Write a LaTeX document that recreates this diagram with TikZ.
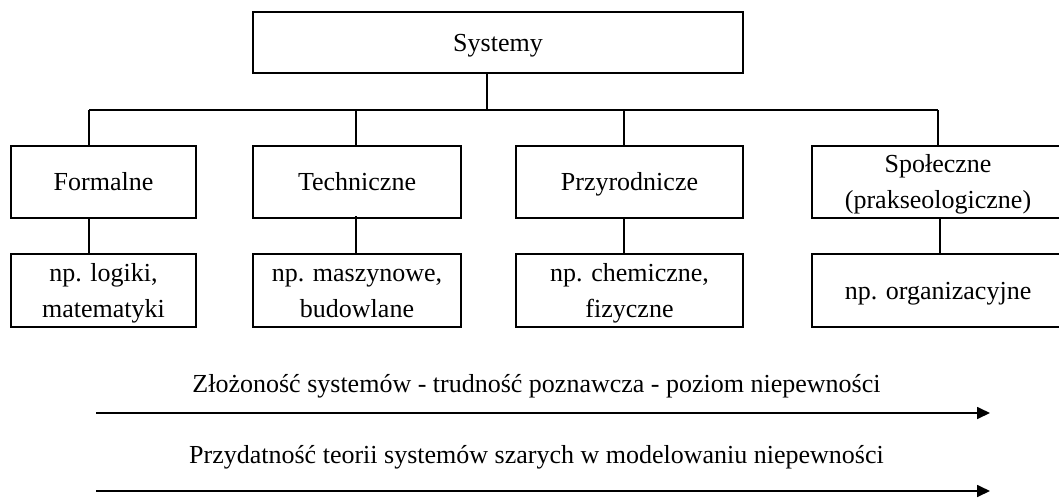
\documentclass[tikz,border=0pt]{standalone}
\usepackage{fontspec}
\setmainfont{Liberation Serif}
\usetikzlibrary{arrows.meta}
\tikzset{
  lbl/.style={font=\fontsize{26}{36}\selectfont},
  box/.style={lbl, draw, line width=2pt, align=center, inner sep=0pt,
              text depth=0pt, text height=17.5pt},
  twoline/.style={text height=53.5pt},
  wire/.style={line width=1.1pt},
  axis/.style={line width=1.7pt, -{Triangle[length=13pt,width=12pt]}}
}
\begin{document}
\begin{tikzpicture}[x=1pt,y=-1pt]
  \clip (0,0) rectangle (1059,498);
  \fill[white] (0,0) rectangle (1059,498);

  % root
  \node[box, minimum width=490, minimum height=61] (root) at (498,42.5) {Systemy};

  % categories
  \node[box, minimum width=185, minimum height=72] (f)  at (103.5,182) {Formalne};
  \node[box, minimum width=208, minimum height=72] (t)  at (357,182)   {Techniczne};
  \node[box, minimum width=227, minimum height=72] (p)  at (629.5,182) {Przyrodnicze};
  \node[box, twoline, minimum width=252, minimum height=72] (s) at (938,182) {Społeczne\\(prakseologiczne)};

  % examples
  \node[box, twoline, minimum width=185, minimum height=73] (fe) at (103.5,290.5) {np. logiki,\\matematyki};
  \node[box, twoline, minimum width=208, minimum height=73] (te) at (357,290.5)   {np. maszynowe,\\budowlane};
  \node[box, twoline, minimum width=227, minimum height=73] (pe) at (629.5,290.5) {np. chemiczne,\\fizyczne};
  \node[box, minimum width=252, minimum height=73] (se) at (938,290.5) {np. organizacyjne};

  % tree connectors
  \coordinate (hub) at (487,110);
  \coordinate (cf) at (89,110);
  \coordinate (ct) at (356,110);
  \coordinate (cp) at (624,110);
  \coordinate (cs) at (938,110);
  \draw[wire] (root.south -| hub) -- (hub);
  \draw[wire] (cf) -- (cs);
  \draw[wire] (cf) -- (cf |- f.north);
  \draw[wire] (ct) -- (ct |- t.north);
  \draw[wire] (cp) -- (cp |- p.north);
  \draw[wire] (cs) -- (cs |- s.north);

  \draw[wire] (cf |- f.south) -- (cf |- fe.north);
  \draw[wire] ([yshift=3]ct |- t.south) -- (ct |- te.north);
  \draw[wire] (cp |- p.south) -- (cp |- pe.north);
  \draw[wire] ([xshift=2]cs |- s.south) -- ([xshift=2]cs |- se.north);

  % scales
  \node[lbl, anchor=base] (l1) at (536.5,392) {Złożoność systemów - trudność poznawcza - poziom niepewności};
  \coordinate (a1s) at (96,413);
  \coordinate (a1e) at (990,413);
  \draw[axis] (a1s) -- (a1e);

  \node[lbl, anchor=base] (l2) at (536.5,463) {Przydatność teorii systemów szarych w modelowaniu niepewności};
  \coordinate (a2s) at (96,491);
  \coordinate (a2e) at (990,491);
  \draw[axis] (a2s) -- (a2e);
\end{tikzpicture}
\end{document}
